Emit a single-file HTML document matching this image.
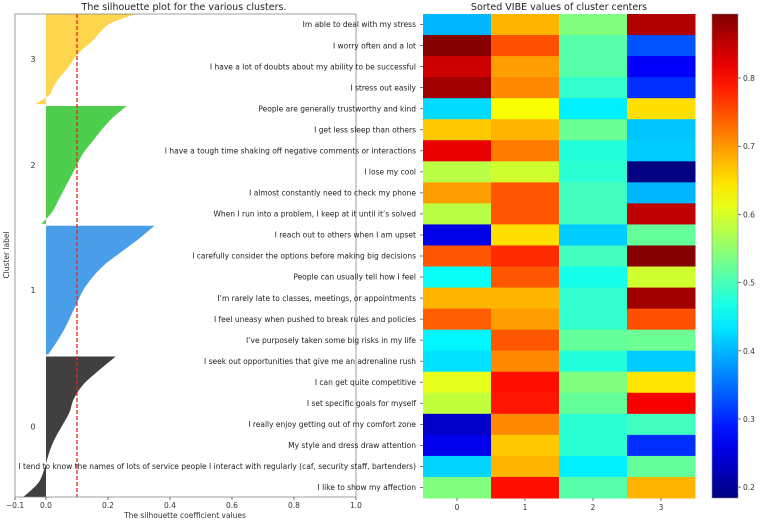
<!DOCTYPE html>
<html><head><meta charset="utf-8"><style>
html,body{margin:0;padding:0;background:#fff;}
svg{display:block;font-family:"DejaVu Sans","Liberation Sans",sans-serif;}
</style></head><body>
<svg id="chart" width="760" height="521" viewBox="0 0 760 521" xmlns="http://www.w3.org/2000/svg">
<g id="sil"></g>
<g id="heat"></g>
<g id="cbar"></g>
</svg>
<script>
// ---- silhouette data ----
const clusterIds = [0, 1, 2, 3];
const clusterSizes = [142, 130, 119, 91];
const clusterColors = ["#404040", "#4a9de8", "#4dcf4d", "#fdd64e"];
const sil0 = [0.225, 0.17, 0.12, 0.09, 0.075, 0.05, 0.025, 0.008, -0.005, -0.025, -0.073];
const sil1 = [0.35, 0.30, 0.245, 0.19, 0.15, 0.12, 0.10, 0.08, 0.06, 0.035, 0.007];
const sil2 = [0.26, 0.215, 0.18, 0.15, 0.12, 0.10, 0.08, 0.06, 0.04, 0.02, -0.015];
const sil3 = [0.29, 0.21, 0.175, 0.15, 0.115, 0.09, 0.07, 0.045, 0.025, 0.01, -0.035];
const silAverage = 0.1;
const silXTicks = [-0.1, 0.0, 0.2, 0.4, 0.6, 0.8, 1.0];
const silXTickLabels = ["\u22120.1", "0.0", "0.2", "0.4", "0.6", "0.8", "1.0"];

// ---- heatmap data ----
const rowLabels = [
 "Im able to deal with my stress",
 "I worry often and a lot",
 "I have a lot of doubts about my ability to be successful",
 "I stress out easily",
 "People are generally trustworthy and kind",
 "I get less sleep than others",
 "I have a tough time shaking off negative comments or interactions",
 "I lose my cool",
 "I almost constantly need to check my phone",
 "When I run into a problem, I keep at it until it\u2019s solved",
 "I reach out to others when I am upset",
 "I carefully consider the options before making big decisions",
 "People can usually tell how I feel",
 "I\u2019m rarely late to classes, meetings, or appointments",
 "I feel uneasy when pushed to break rules and policies",
 "I\u2019ve purposely taken some big risks in my life",
 "I seek out opportunities that give me an adrenaline rush",
 "I can get quite competitive",
 "I set specific goals for myself",
 "I really enjoy getting out of my comfort zone",
 "My style and dress draw attention",
 "I tend to know the names of lots of service people I interact with regularly (caf, security staff, bartenders)",
 "I like to show my affection"
];
const colLabels = ["0", "1", "2", "3"];
const center0 = [0.40,0.89,0.84,0.87,0.425,0.665,0.82,0.58,0.695,0.58,0.255,0.745,0.455,0.68,0.74,0.445,0.43,0.61,0.585,0.235,0.26,0.42,0.54];
const center1 = [0.68,0.75,0.695,0.71,0.625,0.68,0.72,0.595,0.745,0.745,0.65,0.775,0.745,0.68,0.695,0.745,0.71,0.795,0.79,0.71,0.665,0.68,0.795];
const center2 = [0.54,0.51,0.51,0.485,0.44,0.525,0.475,0.48,0.495,0.495,0.415,0.495,0.465,0.485,0.485,0.52,0.475,0.54,0.52,0.48,0.48,0.44,0.51];
const center3 = [0.86,0.33,0.27,0.305,0.65,0.41,0.415,0.184,0.40,0.85,0.52,0.89,0.595,0.87,0.75,0.525,0.415,0.645,0.81,0.495,0.305,0.52,0.68];
const vmin = 0.184, vmax = 0.894;
const cbarTicks = [0.2, 0.3, 0.4, 0.5, 0.6, 0.7, 0.8];

const NS = "http://www.w3.org/2000/svg";
function mk(tag, attrs, parent, text) {
  const e = document.createElementNS(NS, tag);
  for (const k in attrs) e.setAttribute(k, attrs[k]);
  if (text !== undefined) e.textContent = text;
  parent.appendChild(e);
  return e;
}
function jet(t) {
  t = Math.max(0, Math.min(1, t));
  const c = x => Math.round(255 * Math.max(0, Math.min(1, x)));
  return `rgb(${c(1.5 - Math.abs(4*t - 3))},${c(1.5 - Math.abs(4*t - 2))},${c(1.5 - Math.abs(4*t - 1))})`;
}

// ---- silhouette ----
const sil = document.getElementById('sil');
const SL = 15, SR = 356, ST = 14, SB = 497;
const sx = v => SL + (v + 0.1) / 1.1 * (SR - SL);
const gap = 2;
const totalUnits = clusterSizes.reduce((a, b) => a + b, 0) + gap * (clusterSizes.length - 1);
const sy = u => SB - u / totalUnits * (SB - ST);
const silSeries = [sil0, sil1, sil2, sil3];
let base = 0;
clusterIds.forEach((cid, i) => {
  const vals = silSeries[i], n = clusterSizes[i];
  const top = base + n;
  let d = `M${sx(0)},${sy(top)}`;
  const P = vals.map((v, j) => [sx(v), sy(top - j / (vals.length - 1) * n)]);
  d += ` L${P[0][0]},${P[0][1]}`;
  for (let j = 0; j < P.length - 1; j++) {
    const p0 = P[Math.max(0, j - 1)], p1 = P[j], p2 = P[j + 1], p3 = P[Math.min(P.length - 1, j + 2)];
    const c1 = [p1[0] + (p2[0] - p0[0]) / 6, p1[1] + (p2[1] - p0[1]) / 6];
    const c2 = [p2[0] - (p3[0] - p1[0]) / 6, p2[1] - (p3[1] - p1[1]) / 6];
    d += ` C${c1[0].toFixed(1)},${c1[1].toFixed(1)} ${c2[0].toFixed(1)},${c2[1].toFixed(1)} ${p2[0].toFixed(1)},${p2[1].toFixed(1)}`;
  }
  d += ` L${sx(0)},${sy(base)} Z`;
  const poly = mk('path', {d: d, fill: clusterColors[i]}, sil);
  
  
  const lbl = mk('text', {x: 33, y: sy(base + n / 2) + 3, 'font-size': 8, fill: '#333', 'text-anchor': 'middle'}, sil, String(cid));
  
  
  base = top + gap;
});
const avg = mk('line', {x1: sx(silAverage), x2: sx(silAverage), y1: ST, y2: SB, stroke: '#e8261a', 'stroke-width': 1.3, 'stroke-dasharray': '4,2'}, sil);


const frame = mk('rect', {x: SL, y: ST, width: SR - SL, height: SB - ST, fill: 'none', stroke: '#888', 'stroke-width': 0.8}, sil);


silXTicks.forEach((v, i) => {
  mk('line', {x1: sx(v), x2: sx(v), y1: SB, y2: SB + 3, stroke: '#555', 'stroke-width': 0.8}, sil);
  const t = mk('text', {x: sx(v), y: SB + 11, 'font-size': 7.5, fill: '#333', 'text-anchor': 'middle'}, sil, silXTickLabels[i]);
  
  
});
mk('text', {x: 185, y: 518, 'font-size': 7.5, fill: '#333', 'text-anchor': 'middle',  }, sil, 'The silhouette coefficient values');
mk('text', {x: 0, y: 0, 'font-size': 7.5, fill: '#333', 'text-anchor': 'middle', transform: 'translate(9,255) rotate(-90)',  }, sil, 'Cluster label');
mk('text', {x: 184, y: 10, 'font-size': 9.5, fill: '#222', 'text-anchor': 'middle',  }, sil, 'The silhouette plot for the various clusters.');

// ---- heatmap ----
const heat = document.getElementById('heat');
const HL = 423, HR = 695, HT = 14, HB = 498;
const cw = (HR - HL) / colLabels.length, rh = (HB - HT) / rowLabels.length;
const centers = [center0, center1, center2, center3];
centers.forEach((col, c) => {
  col.forEach((v, r) => {
    const cell = mk('rect', {x: HL + c * cw, y: HT + r * rh, width: cw + 0.5, height: rh + 0.5, fill: jet((v - vmin) / (vmax - vmin))}, heat);
    
    
  });
});
rowLabels.forEach((s, r) => {
  const y = HT + (r + 0.5) * rh;
  mk('line', {x1: HL - 3, x2: HL, y1: y, y2: y, stroke: '#555', 'stroke-width': 0.8}, heat);
  const t = mk('text', {x: 416, y: y + 2.7, 'font-size': 7.5, fill: '#222', 'text-anchor': 'end'}, heat, s);
  
  
});
colLabels.forEach((s, c) => {
  const x = HL + (c + 0.5) * cw;
  mk('line', {x1: x, x2: x, y1: HB, y2: HB + 3, stroke: '#555', 'stroke-width': 0.8}, heat);
  const t = mk('text', {x: x, y: HB + 12, 'font-size': 7.5, fill: '#333', 'text-anchor': 'middle'}, heat, s);
  
  
});
mk('text', {x: 559, y: 10, 'font-size': 9.5, fill: '#222', 'text-anchor': 'middle',  }, heat, 'Sorted VIBE values of cluster centers');

// ---- colorbar ----
const cbar = document.getElementById('cbar');
const CL = 712, CR = 738, CT = 14, CB = 498;
const defs = mk('defs', {}, cbar);
const grad = mk('linearGradient', {id: 'jetg', x1: 0, y1: 1, x2: 0, y2: 0}, defs);
for (let i = 0; i <= 20; i++) mk('stop', {offset: i / 20, 'stop-color': jet(i / 20)}, grad);
mk('rect', {x: CL, y: CT, width: CR - CL, height: CB - CT, fill: 'url(#jetg)', stroke: '#888', 'stroke-width': 0.6,  }, cbar);
const cy = v => CB - (v - vmin) / (vmax - vmin) * (CB - CT);
cbarTicks.forEach(v => {
  mk('line', {x1: CR, x2: CR + 3, y1: cy(v), y2: cy(v), stroke: '#555', 'stroke-width': 0.8}, cbar);
  const t = mk('text', {x: CR + 5, y: cy(v) + 3, 'font-size': 7.5, fill: '#333'}, cbar, v.toFixed(1));
  
  
});
</script>
</body></html>
